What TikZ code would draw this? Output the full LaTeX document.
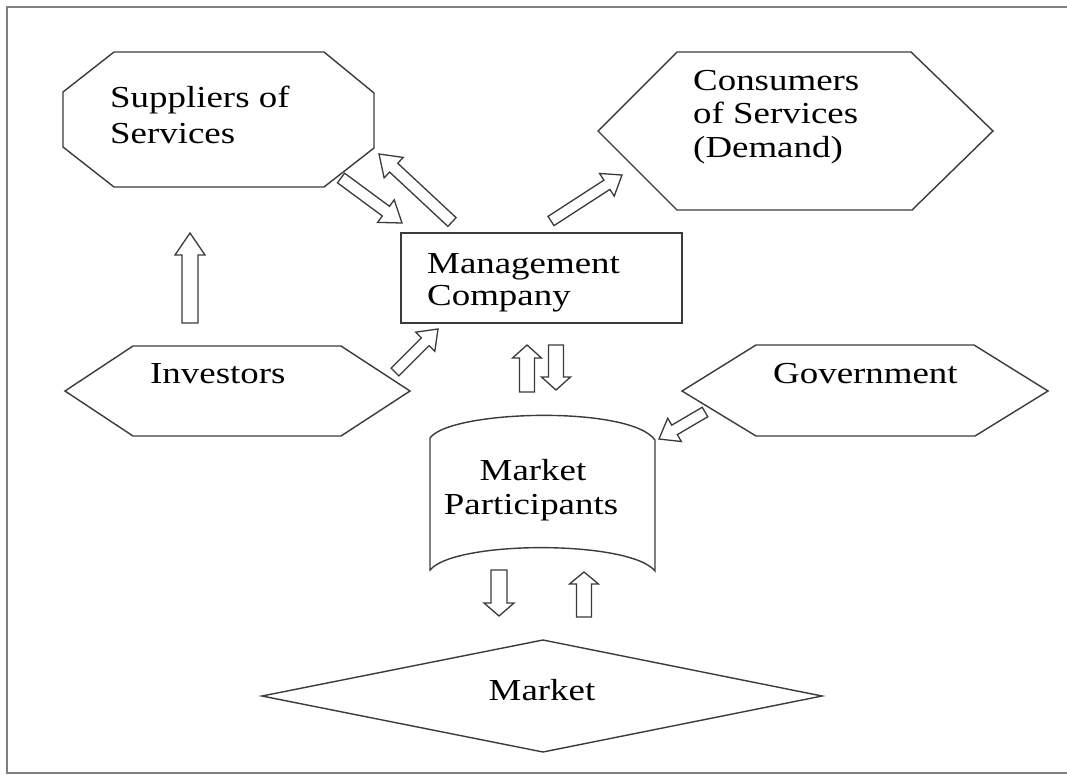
\documentclass[tikz,border=0pt]{standalone}
\usepackage{fontspec}
\setmainfont{Liberation Serif}[FakeStretch=1.21]
\usetikzlibrary{calc}
\definecolor{lineg}{HTML}{3A3A3A}
\definecolor{frameg}{HTML}{808080}
\tikzset{
  shapeline/.style={draw=lineg, line width=1.4pt, line join=miter},
  barrow/.style={draw=lineg, line width=1.3pt, fill=white, line join=miter},
  lbl/.style={inner sep=0pt, anchor=base west, font=\fontsize{30.5}{34}\selectfont},
  clbl/.style={inner sep=0pt, anchor=base, font=\fontsize{30.5}{34}\selectfont},
}
\newcommand\blockarrow[5]{%
  \draw[barrow] let \p1=($(#2)-(#1)$), \n1={atan2(\y1,\x1)}, \n2={veclen(\x1,\y1)-#5} in
    ($(#1)+(\n1+90:#3)$) -- ($(#1)+(\n1:\n2)+(\n1+90:#3)$) -- ($(#1)+(\n1:\n2)+(\n1+90:#4)$)
    -- (#2) -- ($(#1)+(\n1:\n2)+(\n1-90:#4)$) -- ($(#1)+(\n1:\n2)+(\n1-90:#3)$)
    -- ($(#1)+(\n1-90:#3)$) -- cycle;}
\begin{document}
\begin{tikzpicture}[x=1pt, y=-1pt]
\useasboundingbox (0,0) rectangle (1067,774);
% frame
\draw[frameg, line width=2.6pt] (1067,7) -- (7,7) -- (7,773) -- (1067,773);

% Suppliers of Services (octagon)
\draw[shapeline] (114,52) -- (324,52) -- (374,93) -- (374,148) -- (324,187) -- (114,187) -- (63,147) -- (63,92) -- cycle;
\node[lbl] (supA) at (110,107) {Suppliers of};
\node[lbl] (supB) at (110,143) {Services};

% Consumers of Services (hexagon)
\draw[shapeline] (677,52) -- (911,52) -- (993,131) -- (912,210) -- (677,210) -- (598,131) -- cycle;
\node[lbl] (conA) at (693,90) {Consumers};
\node[lbl] (conB) at (693,123) {of Services};
\node[lbl] (conC) at (693,157) {(Demand)};

% Management Company (rectangle)
\draw[shapeline] (401,233) rectangle (682,323);
\node[lbl] (mgmA) at (427,273) {Management};
\node[lbl] (mgmB) at (427,305) {Company};

% Investors (hexagon)
\draw[shapeline] (133,346) -- (341,346) -- (410,391) -- (341,436) -- (133,436) -- (65,391) -- cycle;
\node[lbl] (inv) at (150,383) {Investors};

% Government (hexagon)
\draw[shapeline] (756,345) -- (974,345) -- (1048,391) -- (975,436) -- (756,436) -- (682,391) -- cycle;
\node[lbl] (gov) at (773,383) {Government};

% Market Participants (curved banner)
\draw[shapeline] (430,438) .. controls (450,410) and (630,405) .. (655,440)
   -- (655,571) .. controls (630,540) and (455,540) .. (430,570) -- cycle;
\node[clbl] (mpA) at (533,480) {Market};
\node[clbl] (mpB) at (531,514) {Participants};

% Market (diamond)
\draw[shapeline] (262,696) -- (543,640) -- (822,696) -- (543,752) -- cycle;
\node[clbl] (mkt) at (542,700) {Market};

% arrow end points
\coordinate (a1s) at (341,178); \coordinate (a1e) at (402,223);
\coordinate (a2s) at (452,222); \coordinate (a2e) at (379,154);
\coordinate (a3s) at (551,221); \coordinate (a3e) at (622,175);
\coordinate (a4s) at (395,372); \coordinate (a4e) at (438,329);
\coordinate (a5s) at (190,323); \coordinate (a5e) at (190,233);
\coordinate (a6s) at (527,392); \coordinate (a6e) at (527,345);
\coordinate (a7s) at (556,345); \coordinate (a7e) at (556,390);
\coordinate (a8s) at (705,412); \coordinate (a8e) at (659,439);
\coordinate (a9s) at (499,570); \coordinate (a9e) at (499,616);
\coordinate (a10s) at (584,617); \coordinate (a10e) at (584,572);

\blockarrow{a1s}{a1e}{6pt}{14pt}{20pt}
\blockarrow{a2s}{a2e}{6pt}{14pt}{20pt}
\blockarrow{a3s}{a3e}{5.5pt}{13.5pt}{18pt}
\blockarrow{a4s}{a4e}{5.5pt}{13.5pt}{18pt}
\blockarrow{a5s}{a5e}{8pt}{15pt}{22pt}
\blockarrow{a6s}{a6e}{7.5pt}{14.5pt}{13pt}
\blockarrow{a7s}{a7e}{7.5pt}{14.5pt}{13pt}
\blockarrow{a8s}{a8e}{5.5pt}{13.5pt}{18pt}
\blockarrow{a9s}{a9e}{8pt}{15pt}{13pt}
\blockarrow{a10s}{a10e}{7.5pt}{14.5pt}{12pt}
\end{tikzpicture}
\end{document}
